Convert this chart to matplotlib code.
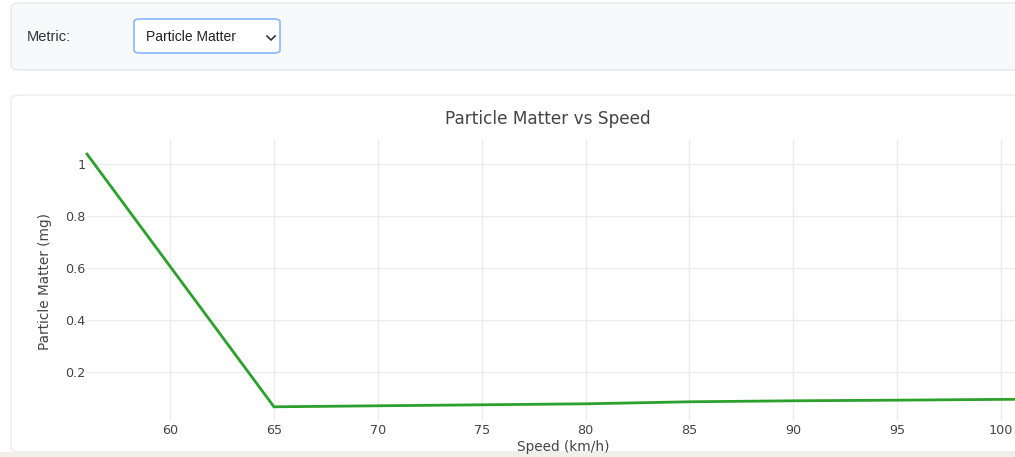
import matplotlib
matplotlib.use("Agg")
import matplotlib.pyplot as plt
from matplotlib.patches import FancyBboxPatch, Rectangle

W, H = 1015, 457

# data
speed = [56, 65, 70, 75, 80, 85, 90, 95, 100, 102]
pm = [1.037, 0.0665, 0.0704, 0.0742, 0.078, 0.0858, 0.0896, 0.092, 0.095, 0.096]
x_ticks = [60, 65, 70, 75, 80, 85, 90, 95, 100]
y_ticks = [0.2, 0.4, 0.6, 0.8, 1.0]
y_tick_labels = ['0.2', '0.4', '0.6', '0.8', '1']

title = 'Particle Matter vs Speed'
x_label = 'Speed (km/h)'
y_label = 'Particle Matter (mg)'
metric_label = 'Metric:'
metric_choice = 'Particle Matter'


def fx(px):
    return px / W


def fy(py):
    return 1 - py / H


plt.rcParams['font.family'] = ['DejaVu Sans']

fig = plt.figure(figsize=(W / 100, H / 100), dpi=100)
fig.patch.set_facecolor('white')

# page strip at the bottom
fig.add_artist(Rectangle((0, 0), 1, fy(452), transform=fig.transFigure,
                         facecolor='#f2efeb', edgecolor='none', zorder=0))

# top control card
fig.add_artist(FancyBboxPatch((fx(11), fy(70)), fx(1040 - 11), fy(3) - fy(70),
                              boxstyle='round,pad=0,rounding_size=0.01',
                              transform=fig.transFigure, facecolor='#f8f9fa',
                              edgecolor='#e6e8eb', linewidth=1, zorder=0))
fig.text(fx(27), fy(37), metric_label, fontsize=10.5, color='#333333',
         family='Liberation Sans', va='center', ha='left')

# select box
fig.add_artist(FancyBboxPatch((fx(134), fy(53)), fx(280 - 134), fy(19) - fy(53),
                              boxstyle='round,pad=0,rounding_size=0.006',
                              transform=fig.transFigure, facecolor='white',
                              edgecolor='#86b7fe', linewidth=1.2, zorder=1))
fig.text(fx(146), fy(37), metric_choice, fontsize=10, color='#222222',
         family='Liberation Sans', va='center', ha='left', zorder=2)
fig.lines.append(plt.Line2D([fx(267), fx(271), fx(275)], [fy(36), fy(40), fy(36)],
                            transform=fig.transFigure, color='#333333',
                            linewidth=1.2, zorder=2))

# chart card
fig.add_artist(FancyBboxPatch((fx(11), fy(452)), fx(1040 - 11), fy(95) - fy(452),
                              boxstyle='round,pad=0,rounding_size=0.01',
                              transform=fig.transFigure, facecolor='white',
                              edgecolor='#ececec', linewidth=1, zorder=0))

# plot area
left_px, top_px, bottom_px = 87, 140, 421
xmin, xmax = 56, 102
px_per_unit = (1000 - 169) / 40
right_px = left_px + (xmax - xmin) * px_per_unit
ax = fig.add_axes([fx(left_px), fy(bottom_px), fx(right_px - left_px), fy(top_px) - fy(bottom_px)])
ax.set_facecolor('none')
ax.plot(speed, pm, color='#2ca02c', linewidth=2, solid_joinstyle='miter', clip_on=False)
ax.set_xlim(xmin, xmax)
ax.set_ylim(0.012, 1.091)
ax.set_xticks(x_ticks)
ax.set_yticks(y_ticks)
ax.set_yticklabels(y_tick_labels)
ax.grid(True, color='#ebebeb', linewidth=1)
ax.set_axisbelow(True)
for s in ax.spines.values():
    s.set_visible(False)
ax.tick_params(length=0, labelsize=9.2, labelcolor='#444444')
ax.tick_params(axis='x', pad=2)
ax.tick_params(axis='y', pad=1)

fig.text(fx(548), fy(119), title, fontsize=12.2, color='#444444', ha='center', va='center')
fig.text(fx(563), fy(447), x_label, fontsize=9.8, color='#444444', ha='center', va='center')
fig.text(fx(45), fy(282), y_label, fontsize=9.8, color='#444444', ha='center', va='center',
         rotation=90)

fig.savefig('out.png', dpi=100)
